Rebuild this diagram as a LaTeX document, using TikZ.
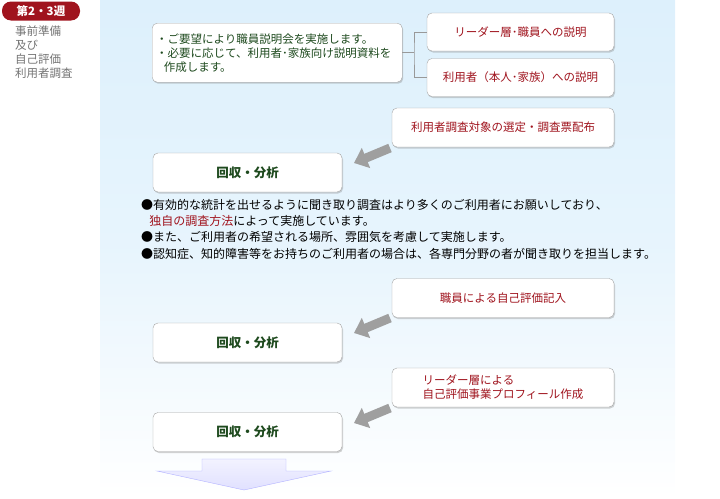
\documentclass[tikz,border=0pt]{standalone}
\usepackage{fontspec}
\setmainfont{Noto Sans CJK JP}
\usetikzlibrary{shadows,arrows.meta}
\definecolor{boxred}{HTML}{A0141E}
\definecolor{boxgreen}{HTML}{1E4A1E}
\definecolor{panelblue}{HTML}{DDF0FC}
\tikzset{
  card/.style={draw=gray!70, fill=white, rounded corners=5pt, drop shadow={shadow xshift=1pt, shadow yshift=-1.5pt, opacity=0.35}, inner sep=2pt, font=\fontsize{11.5}{14}\selectfont},
  redcard/.style={card, text=boxred, minimum width=187pt, minimum height=38pt, align=center},
  stepcard/.style={card, text=boxred, minimum width=222pt, minimum height=39pt, align=center},
  resultcard/.style={card, text=boxgreen, minimum width=189pt, minimum height=39pt, font=\fontsize{12.5}{14}\selectfont\bfseries},
  bigarrow/.style={line width=9pt, draw=gray!75, -{Triangle[width=21pt,length=13pt]}}
}
\begin{document}
\begin{tikzpicture}[x=1pt, y=-1pt]
  \useasboundingbox (0,0) rectangle (720,498);
  \shade[top color=panelblue, bottom color=white, middle color=panelblue!70] (100,0) rectangle (675,498);

  % week label
  \node[fill=boxred, text=white, rounded corners=9pt, minimum width=78pt, minimum height=19pt, inner sep=0pt, font=\fontsize{11.5}{12}\selectfont\bfseries] (week) at (41,11) {第2・3週};
  \node[anchor=north west, text=gray!90!black, align=left, inner sep=0pt, font=\fontsize{11.5}{14}\selectfont] (phase) at (15,26) {事前準備\\及び\\自己評価\\利用者調査};

  % explanation
  \node[card, text=boxgreen, anchor=north west, text width=242pt, minimum height=59pt, inner sep=4pt, align=left] (brief) at (152,23) {・ご要望により職員説明会を実施します。\\・必要に応じて、利用者･家族向け説明資料を\\\ \ 作成します。};
  \node[redcard] (staff) at (520.5,32) {リーダー層･職員への説明};
  \node[redcard] (users) at (520.5,77.5) {利用者（本人･家族）への説明};
  \coordinate (fork) at (414,52.5);
  \draw[gray!80] (brief.east |- fork) -- (fork);
  \draw[gray!80] (staff.west) -| (fork) |- (users.west);

  % survey
  \node[stepcard] (select) at (503,127.5) {利用者調査対象の選定・調査票配布};
  \node[resultcard] (collectA) at (247.5,172.5) {回収・分析};
  \coordinate (tailA) at (390,148);
  \coordinate (headA) at (354,163);
  \draw[bigarrow] (tailA) -- (headA);

  \node[anchor=north west, inner sep=0pt, align=left, font=\fontsize{12}{16.3}\selectfont] (notes) at (141,199) {●有効的な統計を出せるように聞き取り調査はより多くのご利用者にお願いしており、\\\ \ \ \textcolor{boxred}{独自の調査方法}によって実施しています。\\●また、ご利用者の希望される場所、雰囲気を考慮して実施します。\\●認知症、知的障害等をお持ちのご利用者の場合は、各専門分野の者が聞き取りを担当します。};

  % self evaluation
  \node[stepcard] (selfeval) at (503,298) {職員による自己評価記入};
  \node[resultcard] (collectB) at (247.5,342.5) {回収・分析};
  \coordinate (tailB) at (390,318);
  \coordinate (headB) at (354,333);
  \draw[bigarrow] (tailB) -- (headB);

  \node[stepcard, align=left] (profile) at (503,387.5) {リーダー層による\\自己評価事業プロフィール作成};
  \node[resultcard] (collectC) at (247.5,432) {回収・分析};
  \coordinate (tailC) at (390,408);
  \coordinate (headC) at (354,423);
  \draw[bigarrow] (tailC) -- (headC);

  % next
  \coordinate (down) at (244,490);
  \draw[draw=blue!30, top color=blue!5, bottom color=blue!12] (202,459) -- (286,459) -- (286,471) -- (331,471) -- (down) -- (157,471) -- (202,471) -- cycle;
\end{tikzpicture}
\end{document}
